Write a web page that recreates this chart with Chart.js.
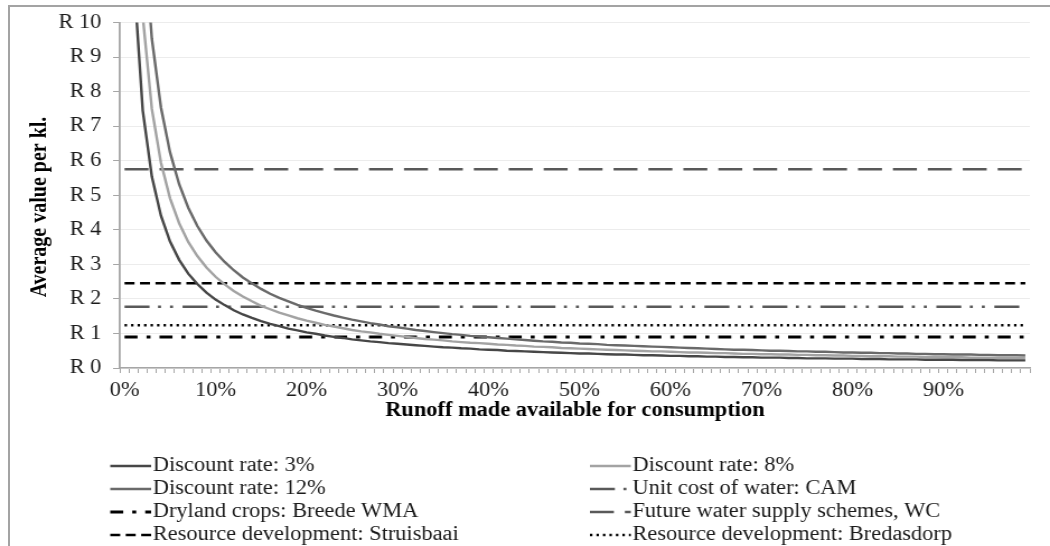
<!DOCTYPE html>
<html>
<head>
<meta charset="utf-8">
<script src="https://cdn.jsdelivr.net/npm/chart.js@4.4.1/dist/chart.umd.min.js"></script>
<style>
  html, body { margin: 0; padding: 0; background: #fff; }
  #wrap { position: relative; width: 1050px; height: 546px; overflow: hidden; }
  #frame { position: absolute; left: 8px; top: 5px; width: 1100px; height: 600px;
           border-left: 2px solid #a3a3a3; border-top: 2px solid #a3a3a3; }
  #chart { position: absolute; left: 0; top: 0; }
</style>
</head>
<body>
<div id="wrap">
  <div id="frame"></div>
  <!-- lienzo más angosto, estirado en horizontal como el original -->
  <canvas id="chart" width="938" height="546" style="width:1050px;height:546px"></canvas>
</div>
<script>
/* Valor medio por kl según la fracción de escorrentía disponible */

// categorías del eje x: 0% .. 99%
const categories = Array.from({ length: 100 }, (_, i) => i + '%');

// curvas por tasa de descuento
const rate3 = [24.0, 11.37, 7.45, 5.54, 4.41, 3.66, 3.13, 2.73, 2.43, 2.18,
  1.98, 1.82, 1.67, 1.55, 1.45, 1.36, 1.28, 1.21, 1.14, 1.09,
  1.03, 0.99, 0.94, 0.90, 0.87, 0.83, 0.80, 0.77, 0.75, 0.72,
  0.70, 0.68, 0.66, 0.64, 0.62, 0.60, 0.59, 0.57, 0.56, 0.54,
  0.53, 0.52, 0.50, 0.49, 0.48, 0.47, 0.46, 0.45, 0.44, 0.43,
  0.42, 0.42, 0.41, 0.40, 0.39, 0.39, 0.38, 0.37, 0.37, 0.36,
  0.35, 0.35, 0.34, 0.34, 0.33, 0.33, 0.32, 0.32, 0.31, 0.31,
  0.30, 0.30, 0.30, 0.29, 0.29, 0.28, 0.28, 0.28, 0.27, 0.27,
  0.27, 0.26, 0.26, 0.26, 0.25, 0.25, 0.25, 0.25, 0.24, 0.24,
  0.24, 0.24, 0.23, 0.23, 0.23, 0.23, 0.22, 0.22, 0.22, 0.22];

const rate8 = [35.6, 15.83, 10.18, 7.50, 5.94, 4.91, 4.19, 3.65, 3.24, 2.91,
  2.64, 2.42, 2.23, 2.07, 1.93, 1.80, 1.70, 1.60, 1.52, 1.44,
  1.37, 1.31, 1.25, 1.20, 1.15, 1.10, 1.06, 1.03, 0.99, 0.96,
  0.93, 0.90, 0.87, 0.84, 0.82, 0.80, 0.77, 0.75, 0.73, 0.72,
  0.70, 0.68, 0.67, 0.65, 0.64, 0.62, 0.61, 0.60, 0.58, 0.57,
  0.56, 0.55, 0.54, 0.53, 0.52, 0.51, 0.50, 0.49, 0.48, 0.48,
  0.47, 0.46, 0.45, 0.45, 0.44, 0.43, 0.43, 0.42, 0.41, 0.41,
  0.40, 0.40, 0.39, 0.39, 0.38, 0.38, 0.37, 0.37, 0.36, 0.36,
  0.35, 0.35, 0.34, 0.34, 0.34, 0.33, 0.33, 0.33, 0.32, 0.32,
  0.31, 0.31, 0.31, 0.30, 0.30, 0.30, 0.29, 0.29, 0.29, 0.29];

const rate12 = [45.3, 20.11, 12.93, 9.53, 7.54, 6.24, 5.32, 4.64, 4.11, 3.69,
  3.35, 3.07, 2.83, 2.62, 2.45, 2.29, 2.15, 2.03, 1.93, 1.83,
  1.74, 1.66, 1.59, 1.52, 1.46, 1.40, 1.35, 1.30, 1.26, 1.21,
  1.18, 1.14, 1.10, 1.07, 1.04, 1.01, 0.98, 0.96, 0.93, 0.91,
  0.89, 0.87, 0.85, 0.83, 0.81, 0.79, 0.77, 0.76, 0.74, 0.73,
  0.71, 0.70, 0.69, 0.67, 0.66, 0.65, 0.64, 0.63, 0.62, 0.61,
  0.60, 0.59, 0.58, 0.57, 0.56, 0.55, 0.54, 0.53, 0.53, 0.52,
  0.51, 0.50, 0.50, 0.49, 0.48, 0.48, 0.47, 0.47, 0.46, 0.45,
  0.45, 0.44, 0.44, 0.43, 0.43, 0.42, 0.42, 0.41, 0.41, 0.40,
  0.40, 0.39, 0.39, 0.39, 0.38, 0.38, 0.37, 0.37, 0.37, 0.36];

// valores de referencia (R/kl), constantes
const refLabels = ['Unit cost of water: CAM', 'Dryland crops: Breede WMA',
  'Future water supply schemes, WC', 'Resource development: Struisbaai',
  'Resource development: Bredasdorp'];
const refValues = [1.77, 0.9, 5.75, 2.45, 1.24];

const yTicks = [0, 1, 2, 3, 4, 5, 6, 7, 8, 9, 10];

const FONT = "'Liberation Serif', 'Times New Roman', serif";

function refLine(k) {
  return [{ x: categories[0], y: refValues[k] }, { x: categories[categories.length - 1], y: refValues[k] }];
}

const datasets = [
  { label: 'Discount rate: 3%', data: rate3, borderColor: '#474747', borderWidth: 2.4 },
  { label: 'Discount rate: 8%', data: rate8, borderColor: '#a3a3a3', borderWidth: 2.4 },
  { label: 'Discount rate: 12%', data: rate12, borderColor: '#6a6a6a', borderWidth: 2.4 },
  { label: refLabels[0], data: refLine(0), borderColor: '#595959', borderWidth: 2.5, borderDash: [22.3, 7.6, 2.7, 8, 2.7, 8.5] },
  { label: refLabels[1], data: refLine(1), borderColor: '#000000', borderWidth: 3, borderDash: [11.6, 8, 3.6, 8] },
  { label: refLabels[2], data: refLine(2), borderColor: '#595959', borderWidth: 2.5, borderDash: [21.4, 9.8] },
  { label: refLabels[3], data: refLine(3), borderColor: '#000000', borderWidth: 2.5, borderDash: [8.9, 4.9] },
  { label: refLabels[4], data: refLine(4), borderColor: '#000000', borderWidth: 2.5, borderDash: [2.2, 3.6] },
];
datasets.forEach((d) => { d.pointRadius = 0; d.tension = 0; d.fill = false; d.borderCapStyle = 'butt'; });

/* leyenda en dos columnas + título vertical */
const extras = {
  id: 'extras',
  afterDraw(chart) {
    const ctx = chart.ctx;
    ctx.save();
    // título eje y
    ctx.font = 'bold 20px ' + FONT;
    ctx.fillStyle = '#000';
    ctx.textAlign = 'center';
    ctx.textBaseline = 'middle';
    ctx.translate(35.5, 207);
    ctx.rotate(-Math.PI / 2);
    ctx.fillText('Average value per kl.', 0, 0);
    ctx.restore();

    ctx.save();
    ctx.font = '20px ' + FONT;
    ctx.textBaseline = 'middle';
    ctx.textAlign = 'left';
    const cols = [98.5, 527];
    chart.data.datasets.forEach((ds, i) => {
      const x = cols[i % 2];
      const y = 466 + Math.floor(i / 2) * 23;
      ctx.beginPath();
      ctx.setLineDash(ds.borderDash || []);
      ctx.lineWidth = ds.borderWidth;
      ctx.strokeStyle = ds.borderColor;
      ctx.moveTo(x, y);
      ctx.lineTo(x + 36.5, y);
      ctx.stroke();
      ctx.setLineDash([]);
      ctx.fillStyle = '#1a1a1a';
      ctx.fillText(ds.label, x + 38, y);
    });
    ctx.restore();
  },
};

new Chart(document.getElementById('chart'), {
  type: 'line',
  data: { labels: categories, datasets },
  plugins: [extras],
  options: {
    responsive: false,
    animation: false,
    layout: { padding: { left: 0, right: 18, top: 21, bottom: 123 } },
    plugins: { legend: { display: false }, tooltip: { enabled: false } },
    scales: {
      x: {
        type: 'category',
        offset: true,
        afterFit: (s) => { s.height = 55; },
        grid: { offset: true, drawOnChartArea: false, tickLength: 5, tickColor: '#a6a6a6', tickWidth: 1 },
        border: { color: '#a6a6a6', width: 1.5 },
        ticks: {
          autoSkip: false, maxRotation: 0, padding: 6, color: '#1a1a1a',
          font: { family: FONT, size: 20 },
          callback: (v, i) => (i % 10 === 0 ? categories[i] : ''),
        },
        title: {
          display: true, text: 'Runoff made available for consumption', color: '#000',
          font: { family: FONT, size: 20, weight: 'bold' }, padding: 0,
        },
      },
      y: {
        min: yTicks[0], max: yTicks[yTicks.length - 1],
        afterFit: (s) => { s.width = 107.2; },
        afterBuildTicks: (s) => { s.ticks = yTicks.map((v) => ({ value: v })); },
        grid: { color: '#ececec', lineWidth: 1, tickLength: 6.2, tickColor: '#a6a6a6' },
        border: { color: '#a6a6a6', width: 1.8 },
        ticks: {
          padding: 10.5, color: '#1a1a1a',
          font: { family: FONT, size: 20 },
          callback: (v) => 'R ' + v,
        },
      },
    },
  },
});
</script>
</body>
</html>
